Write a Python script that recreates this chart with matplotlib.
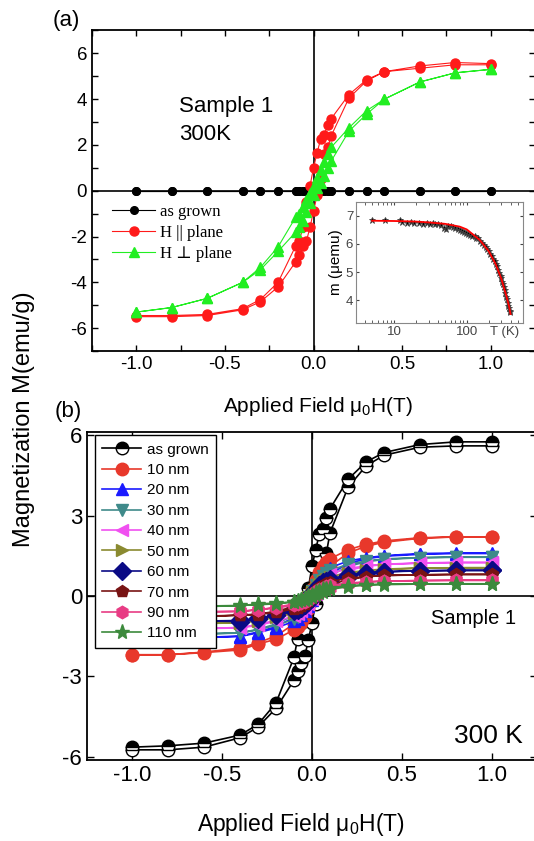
import matplotlib.pyplot as plt
from matplotlib.ticker import MultipleLocator, LogLocator, NullFormatter, FixedLocator

plt.rcParams['font.family'] = ['Liberation Sans', 'DejaVu Sans']
plt.rcParams['mathtext.default'] = 'regular'
plt.rcParams['axes.unicode_minus'] = False

# field sweeps (T): descending branch then ascending branch
H_DOWN = [1.0, 0.8, 0.6, 0.4, 0.3, 0.2, 0.1, 0.08, 0.06, 0.04, 0.02, 0.0,
          -0.02, -0.04, -0.06, -0.08, -0.1, -0.2, -0.3, -0.4, -0.6, -0.8, -1.0]
H_UP = [-1.0, -0.8, -0.6, -0.4, -0.3, -0.2, -0.1, -0.08, -0.06, -0.04, -0.02, 0.0,
        0.02, 0.04, 0.06, 0.08, 0.1, 0.2, 0.3, 0.4, 0.6, 0.8, 1.0]

# panel (a)
a_labels = ['as grown', 'H || plane', 'H \u22a5 plane']
a_grown_down = [0, 0, 0, 0, 0, 0, 0, 0, 0, 0, 0, 0, 0, 0, 0, 0, 0, 0, 0, 0, 0, 0, 0]
a_grown_up = [0, 0, 0, 0, 0, 0, 0, 0, 0, 0, 0, 0, 0, 0, 0, 0, 0, 0, 0, 0, 0, 0, 0]
a_par_down = [5.55, 5.6, 5.45, 5.2, 4.85, 4.2, 3.15, 2.85, 2.45, 2.25, 1.65, 1.0,
              0.2, -0.5, -1.6, -2.2, -2.4, -4.0, -4.75, -5.15, -5.4, -5.45, -5.45]
a_par_up = [-5.5, -5.5, -5.45, -5.2, -4.85, -4.2, -3.1, -2.8, -2.4, -2.2, -1.6, -0.9,
            -0.2, 0.5, 1.6, 1.9, 2.4, 4.05, 4.8, 5.2, 5.35, 5.5, 5.5]
a_perp_down = [5.3, 5.15, 4.75, 4.0, 3.5, 2.75, 1.9, 1.6, 1.25, 0.9, 0.55, 0.2,
               -0.1, -0.4, -0.7, -1.0, -1.15, -2.45, -3.35, -4.0, -4.7, -5.1, -5.3]
a_perp_up = [-5.3, -5.1, -4.7, -4.0, -3.45, -2.65, -1.8, -1.6, -1.3, -0.95, -0.55, -0.2,
             0.1, 0.35, 0.65, 1.0, 1.3, 2.6, 3.35, 4.0, 4.75, 5.15, 5.3]

# inset: m(T)
ins_T = [5, 7.5, 12, 13, 15, 17, 19, 22, 25, 28, 31, 34, 37, 40, 44, 48, 52, 56, 60, 65,
         70, 75, 80, 86, 92, 98, 105, 112, 120, 128, 136, 145, 154, 163, 172, 182, 192,
         202, 212, 222, 232, 242, 252, 262, 272, 282, 292, 300, 308, 316, 324, 332, 340,
         348, 356, 364, 372, 380, 388, 395]
ins_m = [6.87, 6.85, 6.86, 6.8, 6.76, 6.79, 6.74, 6.75, 6.72, 6.76, 6.73, 6.74, 6.71, 6.72,
         6.66, 6.58, 6.55, 6.63, 6.64, 6.6, 6.57, 6.55, 6.5, 6.48, 6.43, 6.38, 6.36, 6.32,
         6.3, 6.28, 6.22, 6.2, 6.12, 6.05, 5.98, 5.9, 5.82, 5.76, 5.66, 5.58, 5.48, 5.4,
         5.28, 5.2, 5.08, 4.98, 4.86, 4.78, 4.66, 4.58, 4.45, 4.36, 4.25, 4.12, 4.02, 3.9,
         3.8, 3.7, 3.62, 3.56]
fit_T = [5, 10, 20, 30, 50, 80, 100, 150, 200, 250, 300, 350, 380, 400]
fit_m = [6.83, 6.82, 6.8, 6.77, 6.72, 6.62, 6.52, 6.15, 5.75, 5.28, 4.75, 4.15, 3.8, 3.5]

# panel (b)
b_labels = ['as grown', '10 nm', '20 nm', '30 nm', '40 nm', '50 nm', '60 nm', '70 nm',
            '90 nm', '110 nm']
b_down = [
    [5.75, 5.75, 5.65, 5.35, 5.0, 4.35, 3.25, 2.9, 2.5, 2.3, 1.7, 1.1,
     0.3, -0.4, -1.0, -1.6, -2.3, -4.0, -4.8, -5.2, -5.5, -5.6, -5.65],
    [2.2, 2.2, 2.17, 2.05, 1.92, 1.72, 1.38, 1.25, 1.1, 0.9, 0.6, 0.25,
     -0.1, -0.4, -0.65, -0.85, -1.05, -1.5, -1.75, -1.95, -2.1, -2.2, -2.2],
    [1.6, 1.6, 1.58, 1.5, 1.42, 1.3, 1.05, 0.95, 0.82, 0.65, 0.45, 0.2,
     -0.05, -0.3, -0.5, -0.65, -0.8, -1.15, -1.35, -1.5, -1.55, -1.58, -1.6],
    [1.45, 1.45, 1.43, 1.38, 1.3, 1.18, 0.95, 0.86, 0.74, 0.6, 0.4, 0.18,
     -0.05, -0.27, -0.45, -0.6, -0.72, -1.05, -1.25, -1.38, -1.42, -1.44, -1.45],
    [1.25, 1.25, 1.23, 1.18, 1.12, 1.02, 0.82, 0.74, 0.64, 0.52, 0.35, 0.15,
     -0.05, -0.23, -0.38, -0.5, -0.62, -0.9, -1.08, -1.18, -1.22, -1.24, -1.25],
    [1.05, 1.05, 1.04, 1.0, 0.95, 0.87, 0.7, 0.63, 0.55, 0.44, 0.3, 0.13,
     -0.04, -0.2, -0.33, -0.43, -0.53, -0.77, -0.92, -1.0, -1.03, -1.05, -1.05],
    [0.95, 0.95, 0.94, 0.9, 0.86, 0.79, 0.63, 0.57, 0.5, 0.4, 0.27, 0.12,
     -0.04, -0.18, -0.3, -0.39, -0.48, -0.7, -0.84, -0.92, -0.94, -0.95, -0.95],
    [0.8, 0.8, 0.79, 0.76, 0.72, 0.66, 0.53, 0.48, 0.42, 0.34, 0.23, 0.1,
     -0.03, -0.15, -0.25, -0.33, -0.4, -0.58, -0.68, -0.72, -0.76, -0.79, -0.8],
    [0.58, 0.58, 0.57, 0.55, 0.52, 0.48, 0.39, 0.35, 0.31, 0.25, 0.17, 0.07,
     -0.03, -0.11, -0.18, -0.24, -0.3, -0.43, -0.52, -0.58, -0.6, -0.6, -0.6],
    [0.45, 0.45, 0.45, 0.44, 0.42, 0.38, 0.3, 0.27, 0.24, 0.19, 0.13, 0.05,
     -0.02, -0.09, -0.14, -0.19, -0.23, -0.3, -0.33, -0.36, -0.38, -0.4, -0.4],
]
b_up = [
    [-5.75, -5.75, -5.65, -5.3, -4.9, -4.2, -3.15, -2.8, -2.5, -2.25, -1.65, -1.0,
     -0.3, 0.4, 1.0, 1.6, 2.35, 4.05, 4.85, 5.25, 5.55, 5.6, 5.6],
    [-2.2, -2.2, -2.12, -2.02, -1.8, -1.62, -1.27, -1.15, -1.0, -0.8, -0.5, -0.2,
     0.15, 0.45, 0.7, 0.9, 1.1, 1.6, 1.85, 2.0, 2.15, 2.2, 2.2],
    [-1.58, -1.58, -1.55, -1.52, -1.38, -1.2, -0.95, -0.85, -0.72, -0.58, -0.38, -0.15,
     0.1, 0.32, 0.52, 0.68, 0.82, 1.2, 1.38, 1.48, 1.55, 1.58, 1.58],
    [-1.44, -1.44, -1.42, -1.39, -1.27, -1.1, -0.88, -0.78, -0.66, -0.52, -0.35, -0.14,
     0.09, 0.3, 0.47, 0.62, 0.75, 1.1, 1.27, 1.36, 1.42, 1.44, 1.44],
    [-1.24, -1.24, -1.22, -1.2, -1.1, -0.95, -0.76, -0.67, -0.57, -0.45, -0.3, -0.12,
     0.08, 0.26, 0.4, 0.53, 0.65, 0.95, 1.1, 1.17, 1.22, 1.24, 1.24],
    [-1.05, -1.05, -1.03, -1.01, -0.93, -0.8, -0.64, -0.57, -0.48, -0.38, -0.26, -0.1,
     0.07, 0.22, 0.35, 0.45, 0.55, 0.8, 0.93, 0.99, 1.03, 1.05, 1.05],
    [-0.95, -0.95, -0.94, -0.96, -0.85, -0.73, -0.58, -0.51, -0.44, -0.35, -0.24, -0.09,
     0.06, 0.2, 0.32, 0.41, 0.5, 0.72, 0.85, 0.9, 0.93, 0.95, 0.95],
    [-0.8, -0.8, -0.78, -0.72, -0.7, -0.62, -0.49, -0.44, -0.38, -0.3, -0.2, -0.08,
     0.05, 0.17, 0.27, 0.35, 0.42, 0.6, 0.71, 0.76, 0.78, 0.8, 0.8],
    [-0.6, -0.6, -0.59, -0.58, -0.52, -0.45, -0.36, -0.32, -0.28, -0.22, -0.15, -0.06,
     0.04, 0.12, 0.2, 0.26, 0.31, 0.44, 0.52, 0.55, 0.57, 0.58, 0.58],
    [-0.42, -0.42, -0.4, -0.37, -0.3, -0.27, -0.22, -0.2, -0.17, -0.14, -0.1, -0.04,
     0.03, 0.1, 0.15, 0.2, 0.24, 0.34, 0.4, 0.42, 0.44, 0.45, 0.45],
]
b_colors = ['black', '#e8382b', '#1a1aff', '#3f8a8a', '#f050f0', '#8a8a30', '#0a0a85',
            '#781414', '#e83c84', '#3c8a3c']
b_markers = ['o', 'o', '^', 'v', '<', '>', 'D', 'p', 'h', '*']

fig = plt.figure(figsize=(5.34, 8.41), dpi=100)

# ---------- (a)
ax1 = fig.add_axes([0.1723, 0.5826, 0.8296, 0.3812])
ax1.axhline(0, color='black', lw=1.2, zorder=1)
ax1.axvline(0, color='black', lw=1.2, zorder=1)
ax1.plot(H_DOWN + H_UP, a_grown_down + a_grown_up, color='black', lw=0.8,
         marker='o', ms=5.5, label=a_labels[0])
ax1.plot(H_DOWN + H_UP, a_par_down + a_par_up, color='#ff1a1a', lw=0.8,
         marker='o', ms=6.5, label=a_labels[1])
ax1.plot(H_DOWN + H_UP, a_perp_down + a_perp_up, color='#22ee22', lw=0.8,
         marker='^', ms=7, label=a_labels[2])
ax1.set_xlim(-1.25, 1.25)
ax1.set_ylim(-7, 7)
ax1.xaxis.set_major_locator(MultipleLocator(0.5))
ax1.xaxis.set_minor_locator(MultipleLocator(0.25))
ax1.yaxis.set_major_locator(MultipleLocator(2))
ax1.yaxis.set_minor_locator(MultipleLocator(1))
ax1.tick_params(which='both', direction='in', top=True, right=True, width=1,
                labelsize=13.5, length=4)
for s in ax1.spines.values():
    s.set_linewidth(1.3)
ax1.text(-0.76, 3.44, 'Sample 1', fontsize=16, va='baseline')
ax1.text(-0.76, 2.23, '300K', fontsize=16, va='baseline')
leg1 = ax1.legend(loc='upper left', bbox_to_anchor=(0.045, 0.46), frameon=False,
                  prop={'family': ['Liberation Serif', 'DejaVu Serif'], 'size': 12},
                  handlelength=2.6, handletextpad=0.3, labelspacing=0.3,
                  borderpad=0, borderaxespad=0)

# inset
ins = fig.add_axes([0.6667, 0.6156, 0.3133, 0.1446])
ins.plot(ins_T, ins_m, ls='none', marker='*', ms=5, color='black',
         markeredgecolor='#444444', mew=0.6)
ins.plot(fit_T, fit_m, color='red', lw=1.3)
ins.set_xscale('log')
ins.set_xlim(3, 600)
ins.set_ylim(3.17, 7.51)
ins.xaxis.set_major_locator(FixedLocator([10, 100]))
ins.xaxis.set_minor_locator(LogLocator(base=10, subs=range(2, 10)))
ins.xaxis.set_minor_formatter(NullFormatter())
ins.set_xticklabels(['10', '100'])
ins.yaxis.set_major_locator(MultipleLocator(1))
ins.tick_params(which='both', direction='in', top=True, right=True, labelsize=9.5,
                colors='#444444', length=2.5, pad=2)
for s in ins.spines.values():
    s.set_color('#888888')
ins.set_ylabel('m (\u03bcemu)', fontsize=11, labelpad=2)
ins.text(0.8, -0.02, 'T (K)', transform=ins.transAxes, fontsize=9.5,
         color='#444444', ha='left', va='top')

# ---------- (b)
ax2 = fig.add_axes([0.1629, 0.0963, 0.8427, 0.3904])
ax2.axhline(0, color='black', lw=1.2, zorder=1)
ax2.axvline(0, color='black', lw=1.2, zorder=1)
for i in range(len(b_labels)):
    if i == 0:
        ax2.plot(H_DOWN + H_UP, b_down[i] + b_up[i], color='black', lw=1.2,
                 marker='o', ms=9, fillstyle='top', markerfacecolor='black',
                 markerfacecoloralt='white', markeredgecolor='black',
                 label=b_labels[i])
    else:
        ms = 11 if b_markers[i] == '*' else 9
        ax2.plot(H_DOWN + H_UP, b_down[i] + b_up[i], color=b_colors[i], lw=1.2,
                 marker=b_markers[i], ms=ms, label=b_labels[i])
ax2.set_xlim(-1.25, 1.25)
ax2.set_ylim(-6.13, 6.13)
ax2.xaxis.set_major_locator(MultipleLocator(0.5))
ax2.yaxis.set_major_locator(MultipleLocator(3))
ax2.tick_params(direction='in', top=True, right=True, width=1, labelsize=16, length=5)
for s in ax2.spines.values():
    s.set_linewidth(1.3)
ax2.text(0.663, -0.84, 'Sample 1', fontsize=14.5, va='center')
ax2.text(0.79, -5.25, '300 K', fontsize=19, va='center')
leg2 = ax2.legend(loc='upper left', bbox_to_anchor=(0.017, 0.99), fontsize=11,
                  fancybox=False, edgecolor='black', framealpha=1,
                  handlelength=2.55, handletextpad=0.35, labelspacing=0.42,
                  borderpad=0.5, borderaxespad=0)
leg2.get_frame().set_linewidth(1.0)

# figure-level labels
fig.text(0.099, 0.9757, '(a)', fontsize=16, va='center')
fig.text(0.102, 0.5106, '(b)', fontsize=16, va='center')
fig.text(0.045, 0.502, 'Magnetization M(emu/g)', fontsize=17, rotation=90,
         ha='center', va='center')
fig.text(0.595, 0.5106, 'Applied Field \u03bc$_0$H(T)', fontsize=15, ha='center',
         va='baseline')
fig.text(0.563, 0.012, 'Applied Field \u03bc$_0$H(T)', fontsize=16.5, ha='center',
         va='baseline')

fig.savefig('out.png', dpi=100)
